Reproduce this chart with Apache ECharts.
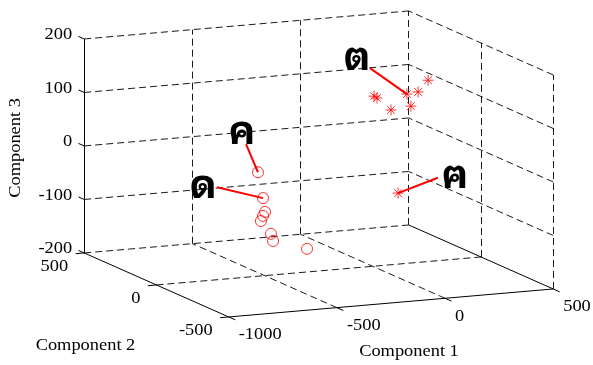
<!DOCTYPE html>
<html>
<head>
<meta charset="utf-8">
<script src="https://cdn.jsdelivr.net/npm/echarts@6/dist/echarts.min.js"></script>
<style>
  html, body { margin: 0; padding: 0; background: #fff; }
  #chart { width: 593px; height: 365px; }
</style>
</head>
<body>
<div id="chart"></div>
<script>
// Ejes del cubo 3D (PCA, tres componentes)
const xTicks = [-1000, -500, 0, 500];
const yTicks = [-500, 0, 500];
const zTicks = [-200, -100, 0, 100, 200];
const axisNames = ["Component 1", "Component 2", "Component 3"];

// Grupo 1 (círculos) y grupo 2 (asteriscos): [comp1, comp2, comp3]
const circlePts = [
  [-464, 100, -20], [-474, 50, -62], [-498, 0, -81], [-494, 20, -91],
  [-537, -30, -93], [-484, -20, -120], [-501, -60, -128], [-471, -250, -121],
];
const starPts = [
  [173, 250, 82], [173, 230, 81], [151, 100, 75], [258, 150, 95],
  [343, 200, 90], [243, 100, 79], [456, 300, 96], [50, -100, -53],
];

// Anotaciones (letras tailandesas) con su línea hacia el punto
const noteText = ["ค", "ด", "ต", "ฅ"];
const notePos = [[-605, 0, 74], [-784, 0, -21], [-73, 0, 194], [380, 0, -43]];
const noteFrom = [[-586, 0, 49], [-720, 0, -27], [-13, 0, 171], [301, 0, -45]];
const noteTo = [circlePts[0], circlePts[1], starPts[3], starPts[7]];

// Proyección ortográfica a píxeles de la vista
const W = 593, H = 365;
const view = { ox: 372.8, oy: 159.3, ex: [0.21633, -0.018667], ey: [-0.1445, -0.064], ez: [0, -0.535] };
function proj(p) {
  return [
    view.ox + p[0] * view.ex[0] + p[1] * view.ey[0] + p[2] * view.ez[0],
    view.oy + p[0] * view.ex[1] + p[1] * view.ey[1] + p[2] * view.ez[1],
  ];
}

const xMin = xTicks[0], xMax = xTicks[xTicks.length - 1];
const yMin = yTicks[0], yMax = yTicks[yTicks.length - 1];
const zMin = zTicks[0], zMax = zTicks[zTicks.length - 1];

// Rejilla punteada: pared trasera, pared derecha y piso
const dashed = [];
zTicks.forEach((z) => dashed.push([[xMin, yMax, z], [xMax, yMax, z]]));
xTicks.filter((x) => x !== xMin).forEach((x) => dashed.push([[x, yMax, zMin], [x, yMax, zMax]]));
zTicks.filter((z) => z !== zMin).forEach((z) => dashed.push([[xMax, yMin, z], [xMax, yMax, z]]));
yTicks.filter((y) => y !== yMax).forEach((y) => dashed.push([[xMax, y, zMin], [xMax, y, zMax]]));
yTicks.filter((y) => y !== yMin && y !== yMax).forEach((y) => dashed.push([[xMin, y, zMin], [xMax, y, zMin]]));
xTicks.filter((x) => x !== xMin && x !== xMax).forEach((x) => dashed.push([[x, yMin, zMin], [x, yMax, zMin]]));

// Ejes sólidos y marcas
const solid = [
  [[xMin, yMin, zMin], [xMax, yMin, zMin]],
  [[xMin, yMin, zMin], [xMin, yMax, zMin]],
  [[xMax, yMin, zMin], [xMax, yMax, zMin]],
  [[xMin, yMax, zMin], [xMin, yMax, zMax]],
];
xTicks.forEach((x) => solid.push([[x, yMin, zMin], [x, yMin - 45, zMin]]));
yTicks.forEach((y) => solid.push([[xMin, y, zMin], [xMin - 40, y, zMin]]));
zTicks.forEach((z) => solid.push([[xMin, yMax, z], [xMin, yMax + 40, z]]));

// Textos: etiquetas de marcas, nombres de ejes y anotaciones
const serif = '"Liberation Serif", "Times New Roman", serif';
const thaiFont = 'bold 40px Tahoma, "Noto Sans Thai Looped", "Noto Serif Thai", Loma, Garuda, Norasi, "Noto Sans Thai", sans-serif';
const texts = [];
xTicks.forEach((v) => texts.push({ at: proj([v, yMin, zMin]), dx: 10, dy: 18, text: String(v), align: "left" }));
yTicks.forEach((v) => texts.push({ at: proj([xMin, v, zMin]), dx: -16, dy: 14, text: String(v), align: "right" }));
zTicks.forEach((v) => texts.push({ at: proj([xMin, yMax, v]), dx: -12, dy: -4, text: String(v), align: "right" }));
texts.push({ at: proj([(xMin + xMax) / 2, yMin, zMin]), dx: 18, dy: 49, text: axisNames[0], align: "center" });
texts.push({ at: proj([xMin, (yMin + yMax) / 2, zMin]), dx: -71, dy: 61, text: axisNames[1], align: "center" });
texts.push({ at: proj([xMin, yMax, (zMin + zMax) / 2]), dx: -68, dy: 2, text: axisNames[2], align: "center", rotate: true });
noteText.forEach((t, i) => texts.push({ at: proj(notePos[i]), dx: 0, dy: 2, text: t, align: "center", thai: true }));

const chart = echarts.init(document.getElementById("chart"), null, { renderer: "canvas" });

const option = {
  animation: false,
  backgroundColor: "#fff",
  grid: { left: 0, right: 0, top: 0, bottom: 0 },
  xAxis: { type: "value", min: 0, max: W, show: false },
  yAxis: { type: "value", min: 0, max: H, inverse: true, show: false },
  series: [
    {
      type: "lines",
      coordinateSystem: "cartesian2d",
      silent: true,
      data: dashed.map((s) => ({ coords: s.map(proj) })),
      lineStyle: { color: "#000", width: 0.9, type: [7, 4], opacity: 1 },
    },
    {
      type: "lines",
      coordinateSystem: "cartesian2d",
      silent: true,
      data: solid.map((s) => ({ coords: s.map(proj) })),
      lineStyle: { color: "#000", width: 1, type: "solid", opacity: 1 },
    },
    {
      type: "lines",
      coordinateSystem: "cartesian2d",
      silent: true,
      data: noteFrom.map((p, i) => ({ coords: [proj(p), proj(noteTo[i])] })),
      lineStyle: { color: "#ff0000", width: 2, type: "solid", opacity: 1 },
    },
    {
      type: "scatter",
      silent: true,
      data: circlePts.map(proj),
      symbol: "circle",
      symbolSize: 11,
      itemStyle: { color: "rgba(0,0,0,0)", borderColor: "#ff0000", borderWidth: 1 },
    },
    {
      type: "scatter",
      silent: true,
      data: starPts.map(proj),
      symbol: "path://M5,0L5,10M0,5L10,5M1.5,1.5L8.5,8.5M1.5,8.5L8.5,1.5",
      symbolSize: 11,
      itemStyle: { color: "rgba(0,0,0,0)", borderColor: "#ff0000", borderWidth: 1 },
    },
    {
      type: "custom",
      silent: true,
      data: texts.map((t) => t.at),
      renderItem: function (params, api) {
        const t = texts[params.dataIndex];
        const c = api.coord([api.value(0), api.value(1)]);
        return {
          type: "text",
          x: c[0] + t.dx,
          y: c[1] + t.dy,
          rotation: t.rotate ? Math.PI / 2 : 0,
          scaleX: t.thai ? 1 : 1.15,
          style: {
            text: t.text,
            fill: "#000",
            align: t.align,
            verticalAlign: "middle",
            font: t.thai ? thaiFont : "16px " + serif,
          },
        };
      },
    },
  ],
};

chart.setOption(option);
</script>
</body>
</html>
